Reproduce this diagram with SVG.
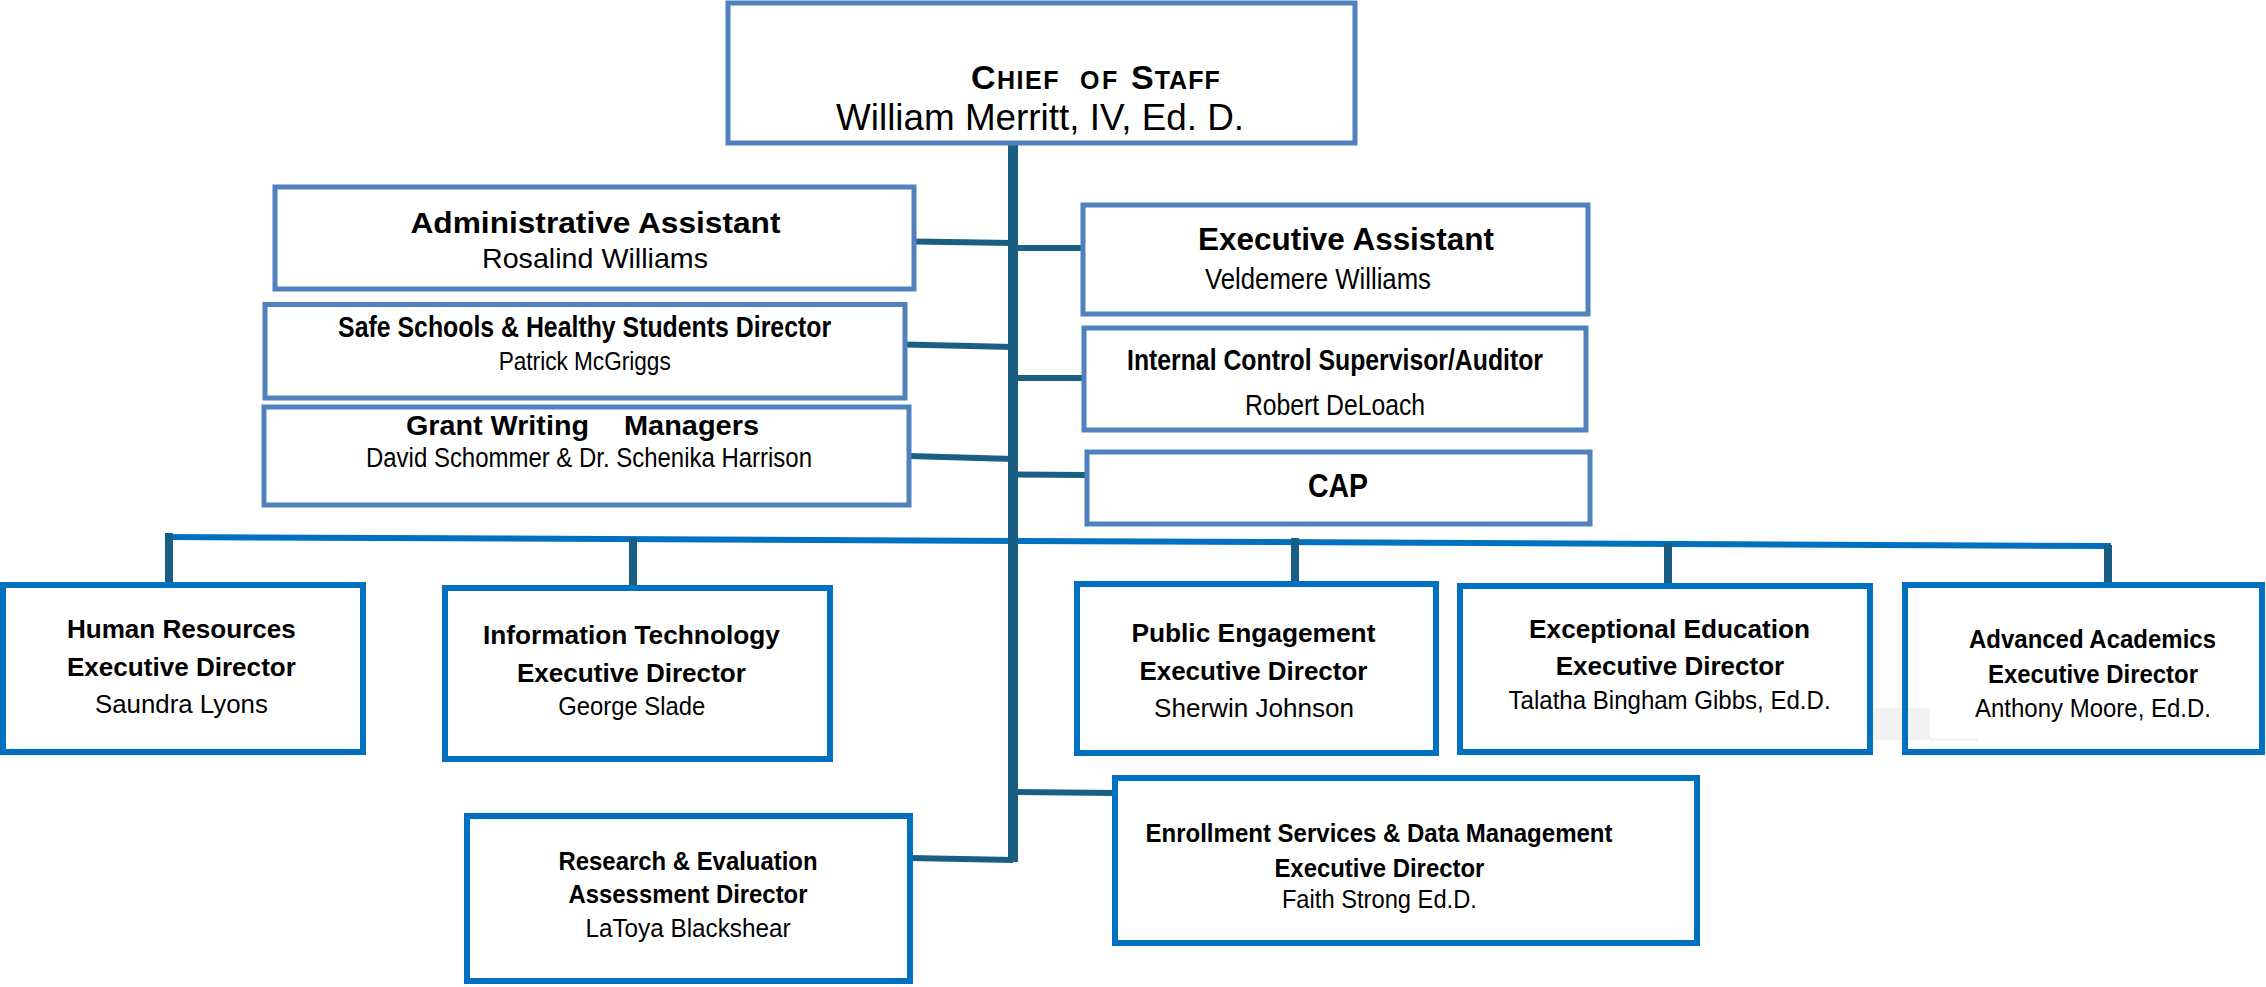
<svg xmlns="http://www.w3.org/2000/svg" width="2266" height="987" viewBox="0 0 2266 987">
<style>
text{font-family:"Liberation Sans",Arial,sans-serif;fill:#000;}
.b{font-weight:bold;}
.t{text-anchor:middle;}
.top{fill:#fff;stroke:#4F81BD;stroke-width:5;}
.bot{fill:#fff;stroke:#0070C0;stroke-width:6;}
.conn{stroke:#1B5E83;stroke-width:6;fill:none;}
.drop{stroke:#1B5E83;stroke-width:8;fill:none;}
.trunk{stroke:#1B5E83;stroke-width:10;fill:none;}
.bus{stroke:#0070C0;stroke-width:6;fill:none;}
</style>
<rect width="2266" height="987" fill="#fff"/>
<g id="artifact">
<rect x="1873" y="708" width="57" height="32" fill="#F2F2F2"/>
<rect x="1930" y="738" width="48" height="3" fill="#F4F4F4"/>
</g>
<g id="connectors">
<line class="bus" x1="166" y1="537" x2="2111" y2="546"/>
<line class="drop" x1="169" y1="533" x2="169" y2="586"/>
<line class="drop" x1="633" y1="538" x2="633" y2="589"/>
<line class="drop" x1="1295" y1="538" x2="1295" y2="585"/>
<line class="drop" x1="1668" y1="543" x2="1668" y2="588"/>
<line class="drop" x1="2108" y1="545" x2="2108" y2="586"/>
<line class="conn" x1="914" y1="241.5" x2="1013" y2="243"/>
<line class="conn" x1="1013" y1="248" x2="1083" y2="248"/>
<line class="conn" x1="905" y1="344.5" x2="1013" y2="347"/>
<line class="conn" x1="1013" y1="378" x2="1084" y2="378"/>
<line class="conn" x1="909" y1="456" x2="1013" y2="459"/>
<line class="conn" x1="1013" y1="474.5" x2="1087" y2="475"/>
<line class="conn" x1="1013" y1="792" x2="1115" y2="793"/>
<line class="conn" x1="910" y1="858" x2="1013" y2="860"/>
<line class="trunk" x1="1013" y1="143" x2="1013" y2="862"/>
</g>
<g id="chief">
<rect class="top" x="728" y="3" width="627" height="140"/>
<text class="b" y="89"><tspan x="971" font-size="34" letter-spacing="1.5">C</tspan><tspan font-size="25" letter-spacing="1.5">HIEF</tspan><tspan x="1080" font-size="25" letter-spacing="2.5">OF</tspan><tspan x="1131" font-size="34" letter-spacing="1">S</tspan><tspan font-size="25" letter-spacing="1">TAFF</tspan></text>
<text x="836" y="130" font-size="36" textLength="408" lengthAdjust="spacingAndGlyphs">William Merritt, IV, Ed. D.</text>
</g>
<g id="admin">
<rect class="top" x="275" y="187" width="639" height="102"/>
<text class="b t" x="595.5" y="233" font-size="29" textLength="370" lengthAdjust="spacingAndGlyphs">Administrative Assistant</text>
<text class="t" x="595" y="268" font-size="28" textLength="226" lengthAdjust="spacingAndGlyphs">Rosalind Williams</text>
</g>
<g id="safe">
<rect class="top" x="265" y="304.5" width="640" height="93.5"/>
<text class="b t" x="584.6" y="337" font-size="30" textLength="493" lengthAdjust="spacingAndGlyphs">Safe Schools &amp; Healthy Students Director</text>
<text class="t" x="584.7" y="370" font-size="26" textLength="172" lengthAdjust="spacingAndGlyphs">Patrick McGriggs</text>
</g>
<g id="grant">
<rect class="top" x="264" y="407" width="645" height="98"/>
<text class="b" y="435" font-size="27"><tspan x="406" textLength="183" lengthAdjust="spacingAndGlyphs">Grant Writing</tspan><tspan x="624" textLength="135" lengthAdjust="spacingAndGlyphs">Managers</tspan></text>
<text class="t" x="589" y="467" font-size="27" textLength="446" lengthAdjust="spacingAndGlyphs">David Schommer &amp; Dr. Schenika Harrison</text>
</g>
<g id="exec">
<rect class="top" x="1083" y="205" width="505" height="109"/>
<text class="b t" x="1346" y="250" font-size="31" textLength="296" lengthAdjust="spacingAndGlyphs">Executive Assistant</text>
<text class="t" x="1318" y="289" font-size="29" textLength="226" lengthAdjust="spacingAndGlyphs">Veldemere Williams</text>
</g>
<g id="internal">
<rect class="top" x="1084" y="328" width="502" height="102"/>
<text class="b t" x="1335" y="370" font-size="30" textLength="416" lengthAdjust="spacingAndGlyphs">Internal Control Supervisor/Auditor</text>
<text class="t" x="1335" y="415" font-size="29" textLength="180" lengthAdjust="spacingAndGlyphs">Robert DeLoach</text>
</g>
<g id="cap">
<rect class="top" x="1087" y="452" width="503" height="72"/>
<text class="b t" x="1338" y="497" font-size="33" textLength="60" lengthAdjust="spacingAndGlyphs">CAP</text>
</g>
<g id="hr">
<rect class="bot" x="3" y="585" width="360" height="167"/>
<text class="b t" x="181.4" y="638" font-size="26" textLength="229" lengthAdjust="spacingAndGlyphs">Human Resources</text>
<text class="b t" x="181.4" y="676" font-size="26" textLength="229" lengthAdjust="spacingAndGlyphs">Executive Director</text>
<text class="t" x="181.4" y="713" font-size="26" textLength="173" lengthAdjust="spacingAndGlyphs">Saundra Lyons</text>
</g>
<g id="it">
<rect class="bot" x="445" y="588" width="385" height="171"/>
<text class="b t" x="631.4" y="644" font-size="26" textLength="297" lengthAdjust="spacingAndGlyphs">Information Technology</text>
<text class="b t" x="631.4" y="682" font-size="26" textLength="229" lengthAdjust="spacingAndGlyphs">Executive Director</text>
<text class="t" x="631.7" y="715" font-size="25" textLength="147" lengthAdjust="spacingAndGlyphs">George Slade</text>
</g>
<g id="pe">
<rect class="bot" x="1077" y="584" width="359" height="169"/>
<text class="b t" x="1253.4" y="642" font-size="26" textLength="244" lengthAdjust="spacingAndGlyphs">Public Engagement</text>
<text class="b t" x="1253.4" y="680" font-size="26" textLength="228" lengthAdjust="spacingAndGlyphs">Executive Director</text>
<text class="t" x="1254" y="717" font-size="26" textLength="200" lengthAdjust="spacingAndGlyphs">Sherwin Johnson</text>
</g>
<g id="ee">
<rect class="bot" x="1460" y="586" width="410" height="166"/>
<text class="b t" x="1669.6" y="638" font-size="26" textLength="281" lengthAdjust="spacingAndGlyphs">Exceptional Education</text>
<text class="b t" x="1670" y="675" font-size="26" textLength="228.5" lengthAdjust="spacingAndGlyphs">Executive Director</text>
<text class="t" x="1669.6" y="709" font-size="25" textLength="322" lengthAdjust="spacingAndGlyphs">Talatha Bingham Gibbs, Ed.D.</text>
</g>
<g id="aa">
<rect class="bot" x="1905" y="585" width="357" height="167" fill="none" style="fill:none"/>
<text class="b t" x="2092.5" y="648" font-size="25" textLength="247" lengthAdjust="spacingAndGlyphs">Advanced Academics</text>
<text class="b t" x="2093" y="683" font-size="25" textLength="210" lengthAdjust="spacingAndGlyphs">Executive Director</text>
<text class="t" x="2093" y="717" font-size="25" textLength="236" lengthAdjust="spacingAndGlyphs">Anthony Moore, Ed.D.</text>
</g>
<g id="research">
<rect class="bot" x="467" y="816" width="443" height="165"/>
<text class="b t" x="688" y="870" font-size="26" textLength="259" lengthAdjust="spacingAndGlyphs">Research &amp; Evaluation</text>
<text class="b t" x="688" y="903" font-size="26" textLength="239" lengthAdjust="spacingAndGlyphs">Assessment Director</text>
<text class="t" x="688" y="937" font-size="26" textLength="205" lengthAdjust="spacingAndGlyphs">LaToya Blackshear</text>
</g>
<g id="enrollment">
<rect class="bot" x="1115" y="778" width="582" height="165"/>
<text class="b t" x="1379" y="842" font-size="26" textLength="467" lengthAdjust="spacingAndGlyphs">Enrollment Services &amp; Data Management</text>
<text class="b t" x="1379.4" y="877" font-size="26" textLength="210" lengthAdjust="spacingAndGlyphs">Executive Director</text>
<text class="t" x="1379.4" y="908" font-size="25" textLength="195" lengthAdjust="spacingAndGlyphs">Faith Strong Ed.D.</text>
</g>
</svg>
